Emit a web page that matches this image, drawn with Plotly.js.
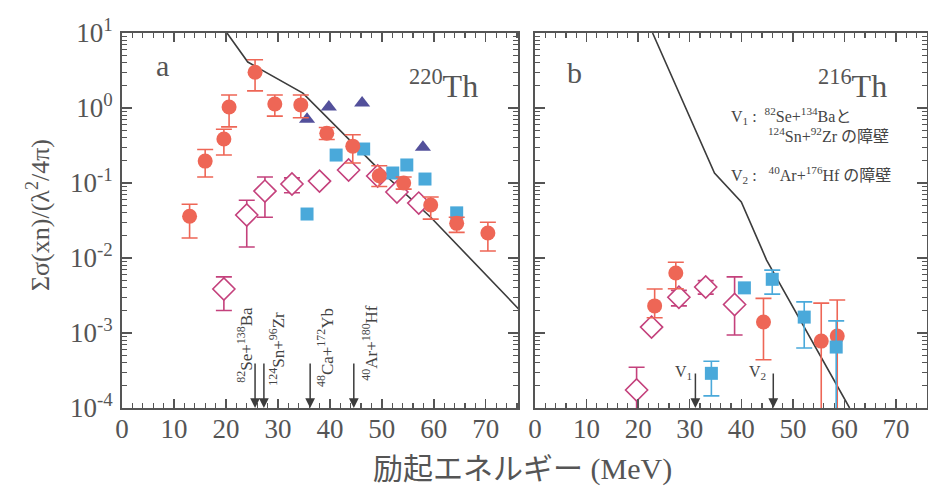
<!DOCTYPE html>
<html><head><meta charset="utf-8">
<script src="https://cdn.plot.ly/plotly-3.0.1.min.js"></script>
<style>html,body{margin:0;padding:0;background:#fff}</style>
</head><body><div id="plot" style="width:928px;height:492px"></div>
<script>
// ---------- Panel a: 220Th ----------
const aRedE   = [13, 16, 19.6, 20.6, 25.6, 29.4, 34.4, 39.4, 44.4, 49.5, 54.2, 59.4, 64.4, 70.4];
const aRedV   = [0.036, 0.196, 0.386, 1.03, 3.0, 1.13, 1.1, 0.46, 0.31, 0.125, 0.1, 0.051, 0.029, 0.0216];
const aRedTop = [0.052, 0.28, 0.52, 1.49, 4.4, 1.49, 1.49, 0.55, 0.44, 0.17, 0.12, 0.065, 0.035, 0.030];
const aRedBot = [0.0185, 0.12, 0.236, 0.56, 1.69, 0.78, 0.74, 0.38, 0.185, 0.09, 0.083, 0.033, 0.022, 0.0124];

const aDiaE   = [19.6, 24, 27.5, 32.7, 38, 43.6, 49.2, 52.9, 57.1];
const aDiaV   = [0.00386, 0.0375, 0.078, 0.097, 0.106, 0.149, 0.124, 0.076, 0.054];
const aDiaTop = [0.0056, 0.059, 0.12, 0.117, null, null, null, null, null];
const aDiaBot = [0.0020, 0.014, 0.035, 0.074, null, null, null, null, null];

const aSqE = [35.6, 41.2, 46.5, 52.1, 54.8, 58.3, 64.4];
const aSqV = [0.0386, 0.236, 0.284, 0.136, 0.174, 0.113, 0.04];

const aTriE = [35.6, 39.8, 46.2, 57.9];
const aTriV = [0.71, 1.03, 1.17, 0.30];

const aLineE = [20.2, 24.2, 34.8, 49, 59.4, 76.5];
const aLineV = [10, 4.1, 1.58, 0.163, 0.035, 0.00203];

const aArrowE = [25.6, 27.3, 36.2, 44.6];
const aArrowLabels = ['<sup>82</sup>Se+<sup>138</sup>Ba', '<sup>124</sup>Sn+<sup>96</sup>Zr',
                      '<sup>48</sup>Ca+<sup>172</sup>Yb', '<sup>40</sup>Ar+<sup>180</sup>Hf'];

// ---------- Panel b: 216Th ----------
const bRedE   = [23.2, 27.3, 44.3, 55.5, 58.6];
const bRedV   = [0.0023, 0.0063, 0.0014, 0.00078, 0.00091];
const bRedTop = [0.00386, 0.0088, 0.0029, 0.0025, 0.00275];
const bRedBot = [0.0016, 0.0039, 0.00044, 0.00001, 0.00001];

const bSqE   = [34.2, 40.6, 46, 52.2, 58.4];
const bSqV   = [0.00029, 0.004, 0.0052, 0.00163, 0.00065];
const bSqTop = [0.00042, null, 0.0069, 0.0026, 0.00145];
const bSqBot = [0.000145, null, 0.0033, 0.00063, 0.00001];

const bDiaE   = [19.7, 22.6, 27.9, 33.1, 38.7];
const bDiaV   = [0.000174, 0.0012, 0.003, 0.0041, 0.0024];
const bDiaTop = [0.00035, null, 0.0037, 0.0050, 0.0056];
const bDiaBot = [0.00001, null, 0.0023, 0.0033, 0.00094];

const bLineE = [22.8, 34.8, 40, 44.9, 61];
const bLineV = [10, 0.136, 0.056, 0.0094, 0.0001];

const bArrowE = [31.1, 46.2];
const bArrowLabels = ['V<sub>1</sub>', 'V<sub>2</sub>'];

const yTickVals = [1e-4, 1e-3, 1e-2, 1e-1, 1, 10];
const yTickText = ['10<sup>-4</sup>', '10<sup>-3</sup>', '10<sup>-2</sup>', '10<sup>-1</sup>', '10<sup>0</sup>', '10<sup>1</sup>'];

// ---------- styles ----------
const RED = '#ee6656', BLUE = '#4aa9da', TRI = '#53509b', DIA = '#c4417c', LINE = '#3c3c3c', AX = '#555555';
const SERIF = '"Liberation Serif", "Times New Roman", "Noto Sans CJK JP", serif';

function plus(v, top) { return v.map((y, i) => top[i] == null ? NaN : top[i] - y); }
function minus(v, bot) { return v.map((y, i) => bot[i] == null ? NaN : y - bot[i]); }
function err(v, top, bot, color) {
  return {type: 'data', symmetric: false, array: plus(v, top), arrayminus: minus(v, bot),
          color: color, thickness: 1.6, width: 8};
}

const traces = [
  {x: aLineE, y: aLineV, xaxis: 'x', yaxis: 'y', mode: 'lines', line: {color: LINE, width: 1.6}},
  {x: aDiaE, y: aDiaV, xaxis: 'x', yaxis: 'y', mode: 'markers',
   marker: {symbol: 'diamond', size: 17, color: '#ffffff', line: {color: DIA, width: 1.6}},
   error_y: err(aDiaV, aDiaTop, aDiaBot, DIA)},
  {x: aSqE, y: aSqV, xaxis: 'x', yaxis: 'y', mode: 'markers',
   marker: {symbol: 'square', size: 13, color: BLUE}},
  {x: aTriE, y: aTriV, xaxis: 'x', yaxis: 'y', mode: 'markers',
   marker: {symbol: 'triangle-up', size: 14, color: TRI}},
  {x: aRedE, y: aRedV, xaxis: 'x', yaxis: 'y', mode: 'markers',
   marker: {symbol: 'circle', size: 15, color: RED},
   error_y: err(aRedV, aRedTop, aRedBot, RED)},

  {x: bLineE, y: bLineV, xaxis: 'x2', yaxis: 'y2', mode: 'lines', line: {color: LINE, width: 1.6}},
  {x: bDiaE, y: bDiaV, xaxis: 'x2', yaxis: 'y2', mode: 'markers',
   marker: {symbol: 'diamond', size: 17, color: '#ffffff', line: {color: DIA, width: 1.6}},
   error_y: err(bDiaV, bDiaTop, bDiaBot, DIA)},
  {x: bRedE, y: bRedV, xaxis: 'x2', yaxis: 'y2', mode: 'markers',
   marker: {symbol: 'circle', size: 15, color: RED},
   error_y: err(bRedV, bRedTop, bRedBot, RED)},
  {x: bSqE, y: bSqV, xaxis: 'x2', yaxis: 'y2', mode: 'markers',
   marker: {symbol: 'square', size: 13, color: BLUE},
   error_y: err(bSqV, bSqTop, bSqBot, BLUE)}
];

const xCommon = {
  dtick: 10, tick0: 0, ticks: 'inside', ticklen: 9, tickwidth: 1.4, tickcolor: AX,
  minor: {dtick: 2, ticks: 'inside', ticklen: 5, tickwidth: 1.2, tickcolor: AX, showgrid: false},
  showline: true, linecolor: AX, linewidth: 2, mirror: 'allticks', showgrid: false, zeroline: false,
  ticklabelstandoff: -4,
  tickfont: {family: SERIF, size: 27, color: AX}
};
const yCommon = {
  type: 'log', range: [-4, 1], tickmode: 'array', tickvals: yTickVals, ticktext: yTickText,
  ticks: 'inside', ticklen: 10, tickwidth: 1.4, tickcolor: AX,
  minor: {dtick: 'D1', ticks: 'inside', ticklen: 5, tickwidth: 1.1, tickcolor: AX, showgrid: false},
  showline: true, linecolor: AX, linewidth: 2, mirror: 'allticks', showgrid: false, zeroline: false,
  domain: [0.1707, 0.9329], ticklabelstandoff: 2,
  tickfont: {family: SERIF, size: 27, color: AX}
};

const annotations = [];
aArrowE.forEach(e => annotations.push({xref: 'x', yref: 'y', x: e, y: -4, ax: 0, ay: -46,
  showarrow: true, arrowhead: 2, arrowsize: 1.3, arrowwidth: 1.5, arrowcolor: LINE, text: ''}));
bArrowE.forEach(e => annotations.push({xref: 'x2', yref: 'y2', x: e, y: -4, ax: 0, ay: -36,
  showarrow: true, arrowhead: 2, arrowsize: 1.3, arrowwidth: 1.5, arrowcolor: LINE, text: ''}));

const labelPos = [[23.6, -3.16], [29.8, -3.21], [39.2, -3.19], [47.7, -3.13]];
aArrowLabels.forEach((t, i) => annotations.push({xref: 'x', yref: 'y', x: labelPos[i][0], y: labelPos[i][1],
  text: t, textangle: -90, showarrow: false, font: {family: SERIF, size: 17, color: '#444'}}));
const vPos = [28.7, 43.2];
bArrowLabels.forEach((t, i) => annotations.push({xref: 'x2', yref: 'y2', x: vPos[i], y: -3.52,
  text: t, showarrow: false, font: {family: SERIF, size: 16, color: '#444'}}));

// positions in pixels converted to axis-domain fractions
function ax(p) { return (p - 122) / 396; }    // panel a x domain
function bx(p) { return (p - 535) / 392; }    // panel b x domain
function dy(p) { return (408 - p) / 375; }    // shared y domain
function note(xr, x, y, text, size, extra) {
  return Object.assign({xref: xr, yref: 'y domain', x: x, y: y, text: text, showarrow: false,
    xanchor: 'center', yanchor: 'middle', font: {family: SERIF, size: size, color: '#555'}}, extra || {});
}
const LEG = {family: SERIF, size: 16, color: '#444'};
annotations.push(
  note('x domain', ax(162), dy(65), 'a', 30),
  note('x2 domain', bx(575), dy(72), 'b', 30),
  note('x domain', ax(443), dy(84), '<sup>220</sup>Th', 32),
  note('x2 domain', bx(853), dy(84), '<sup>216</sup>Th', 32),
  note('x2 domain', bx(729), dy(116), 'V<sub>1</sub> :  <sup>82</sup>Se+<sup>134</sup>Baと', 16,
       {xanchor: 'left', font: LEG}),
  note('x2 domain', bx(766), dy(135), '<sup>124</sup>Sn+<sup>92</sup>Zr の障壁', 16,
       {xanchor: 'left', font: LEG}),
  note('x2 domain', bx(729), dy(175), 'V<sub>2</sub> :   <sup>40</sup>Ar+<sup>176</sup>Hf の障壁', 16,
       {xanchor: 'left', font: LEG}),
  note('x domain', ax(38), dy(215), 'Σσ(xn)/(λ<sup>2</sup>/4π)', 26, {textangle: -90}),
  note('x domain', ax(522), dy(469), '励起エネルギー (MeV)', 30)
);

const layout = {
  width: 928, height: 492, margin: {l: 0, r: 0, t: 0, b: 0, autoexpand: false},
  paper_bgcolor: '#ffffff', plot_bgcolor: '#ffffff', showlegend: false,
  xaxis: Object.assign({}, xCommon, {domain: [0.1315, 0.5582], range: [0, 76.2], anchor: 'y'}),
  xaxis2: Object.assign({}, xCommon, {domain: [0.5765, 0.9989], range: [0, 76], anchor: 'y2'}),
  yaxis: Object.assign({}, yCommon, {anchor: 'x'}),
  yaxis2: Object.assign({}, yCommon, {anchor: 'x2', showticklabels: false}),
  annotations: annotations
};

Plotly.newPlot('plot', traces, layout, {staticPlot: true});
</script></body></html>
